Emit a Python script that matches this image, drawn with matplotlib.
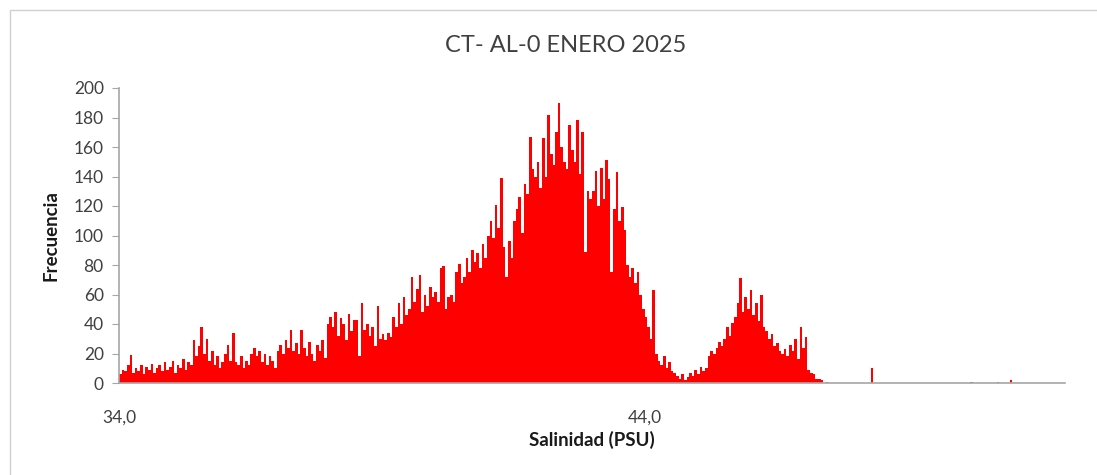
import numpy as np
import matplotlib
matplotlib.use("Agg")
import matplotlib.pyplot as plt
from matplotlib.patches import Rectangle

# salinity histogram, bins of 0.05 PSU starting at 34.0
bin_start = 34.0
bin_width = 0.05
n_bins = 360

freq_main = [
    6, 9, 8, 12, 19, 7, 10, 8, 12, 6,
    11, 9, 13, 7, 10, 12, 8, 14, 9, 11,
    15, 7, 12, 10, 16, 9, 14, 12, 29, 18,
    25, 38, 20, 30, 15, 22, 12, 18, 10, 14,
    20, 26, 15, 34, 14, 12, 18, 10, 15, 12,
    20, 24, 18, 22, 14, 20, 12, 18, 15, 10,
    22, 26, 20, 29, 24, 36, 22, 27, 20, 36,
    24, 18, 28, 20, 15, 26, 22, 29, 17, 40,
    45, 38, 48, 32, 44, 40, 29, 47, 35, 43,
    43, 18, 54, 36, 40, 32, 38, 25, 52, 30,
    33, 29, 34, 31, 45, 38, 54, 40, 58, 46,
    50, 72, 55, 64, 73, 48, 60, 52, 65, 58,
    62, 55, 78, 79, 50, 58, 60, 55, 75, 81,
    68, 72, 85, 75, 90, 82, 88, 78, 94, 85,
    100, 110, 98, 121, 105, 139, 92, 72, 96, 85,
    110, 118, 126, 102, 135, 128, 167, 145, 140, 150,
    132, 166, 140, 182, 155, 148, 170, 190, 160, 150,
    145, 175, 158, 150, 178, 142, 170, 89, 130, 125,
    130, 144, 120, 146, 125, 151, 138, 75, 118, 143,
    110, 119, 104, 80, 72, 78, 68, 75, 60, 50,
    45, 38, 30, 63, 20, 15, 12, 18, 10, 14,
    8, 7, 5, 3, 6, 2, 4, 7, 5, 9,
    6, 11, 8, 10, 18, 22, 20, 24, 28, 25,
    30, 38, 32, 41, 45, 54, 71, 48, 58, 50,
    63, 46, 54, 42, 60, 38, 35, 30, 33, 25,
    27, 22, 20, 23, 18, 26, 22, 30, 16, 38,
    24, 31, 9, 7, 6, 3, 3, 2, 0, 1,
]
# isolated bins further right (bin index -> count)
extra_bins = [286, 324, 334, 339]
extra_freq = [10, 1, 1, 2]

xtick_vals = [34.0, 44.0]
xtick_labels = ["34,0", "44,0"]

freq = np.zeros(n_bins)
freq[:len(freq_main)] = freq_main
freq[extra_bins] = extra_freq
edges = bin_start + np.arange(n_bins) * bin_width

plt.rcParams["font.family"] = ["Lato", "DejaVu Sans"]

fig = plt.figure(figsize=(10.97, 4.75), dpi=100)
ax = fig.add_axes([119/1097, 1 - 383/475, (1065-119)/1097, (383-88)/475])

ax.bar(edges, freq, width=bin_width, align="edge", color="#ff0000", linewidth=0)

ax.set_xlim(bin_start, bin_start + n_bins * bin_width)
ax.set_ylim(0, 200)
ax.set_yticks(np.arange(0, 201, 20))
ax.set_xticks(xtick_vals)
ax.set_xticklabels(xtick_labels)

for s in ["top", "right"]:
    ax.spines[s].set_visible(False)
for s in ["left", "bottom"]:
    ax.spines[s].set_color("#a6a6a6")
    ax.spines[s].set_linewidth(1.2)
ax.tick_params(axis="y", direction="out", length=5, color="#a6a6a6",
               labelsize=12.5, labelcolor="#404040", pad=6)
ax.tick_params(axis="x", length=0, labelsize=12.5, labelcolor="#404040", pad=19)

ax.set_xlabel("Salinidad (PSU)", fontsize=13.5, fontweight="bold", color="#1a1a1a", labelpad=4)
ax.set_ylabel("Frecuencia", fontsize=13.5, fontweight="bold", color="#1a1a1a", labelpad=10)
fig.text(0.516, 1 - 45/475, "CT- AL-0 ENERO 2025", ha="center", va="center",
         fontsize=17, color="#404040")

# chart frame
fig.patches.append(Rectangle((10/1097, -0.1), 1.2, 1 - 10/475 + 0.1,
                             transform=fig.transFigure, fill=False,
                             edgecolor="#d0d0d0", linewidth=1))

fig.savefig("out.png", dpi=100)
